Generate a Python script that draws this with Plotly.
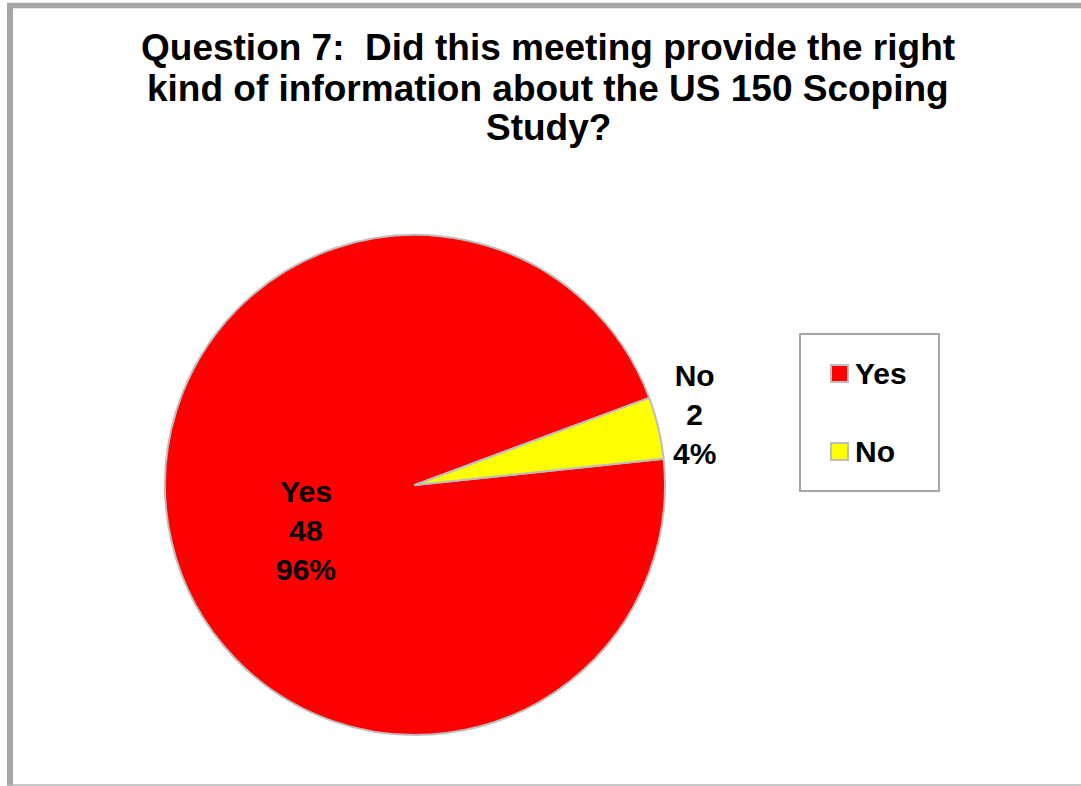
import plotly.graph_objects as go

W, H = 1081, 786

categories = ["Yes", "No"]
counts = [48, 2]
colors = ["#FF0000", "#FFFF00"]
title_lines = [
    "Question 7:  Did this meeting provide the right",
    "kind of information about the US 150 Scoping",
    "Study?",
]

FONT = "Liberation Sans, Arial, sans-serif"


def px(x):
    return x / W


def py(y):
    return 1 - y / H


total = sum(counts)
pcts = [round(100 * c / total) for c in counts]

fig = go.Figure()
fig.add_trace(go.Pie(
    labels=categories,
    values=counts,
    sort=False,
    direction="clockwise",
    rotation=84,
    marker=dict(colors=colors, line=dict(color="#BEBEBE", width=2)),
    textinfo="none",
    hoverinfo="label+value+percent",
    showlegend=False,
    domain=dict(x=[px(165), px(665)], y=[py(735), py(235)]),
))

annotations = []
# title lines
title_y = [48, 89, 127]
for line, yy in zip(title_lines, title_y):
    annotations.append(dict(
        x=px(548), y=py(yy), xref="paper", yref="paper",
        text=line, showarrow=False, xanchor="center", yanchor="middle",
        font=dict(family=FONT, size=37, color="#000000", weight="bold"),
    ))

# data labels
label_pos = [(306, 530), (694, 414)]
for cat, cnt, pct, (lx, ly) in zip(categories, counts, pcts, label_pos):
    annotations.append(dict(
        x=px(lx), y=py(ly), xref="paper", yref="paper",
        text=f"{cat}<br>{cnt}<br>{pct}%", showarrow=False,
        xanchor="center", yanchor="middle",
        font=dict(family=FONT, size=30, color="#000000", weight="bold"),
    ))

shapes = []
# outer frame
shapes.append(dict(type="line", xref="paper", yref="paper",
                   x0=px(10), x1=px(10), y0=py(3), y1=py(786),
                   line=dict(color="#A6A6A6", width=6)))
shapes.append(dict(type="line", xref="paper", yref="paper",
                   x0=px(7), x1=px(1081), y0=py(5.5), y1=py(5.5),
                   line=dict(color="#A6A6A6", width=5.5)))
shapes.append(dict(type="line", xref="paper", yref="paper",
                   x0=px(7), x1=px(1081), y0=py(785), y1=py(785),
                   line=dict(color="#B4B4B4", width=1.5)))

# legend box
shapes.append(dict(type="rect", xref="paper", yref="paper",
                   x0=px(800), x1=px(939), y0=py(491), y1=py(334),
                   line=dict(color="#A6A6A6", width=2), fillcolor="white"))
leg_y = [373.5, 451.5]
for cat, col, ly in zip(categories, colors, leg_y):
    shapes.append(dict(type="rect", xref="paper", yref="paper",
                       x0=px(831), x1=px(848), y0=py(ly + 8.5), y1=py(ly - 8.5),
                       line=dict(color="#BEBEBE", width=2), fillcolor=col))
    annotations.append(dict(
        x=px(853), y=py(ly), xref="paper", yref="paper",
        text=cat, showarrow=False, xanchor="left", yanchor="middle",
        font=dict(family=FONT, size=30, color="#000000", weight="bold"),
    ))

fig.update_layout(
    width=W, height=H,
    margin=dict(l=0, r=0, t=0, b=0),
    paper_bgcolor="white",
    plot_bgcolor="white",
    annotations=annotations,
    shapes=shapes,
    showlegend=False,
)

fig.write_html(
    "out.html",
    config={"displayModeBar": False},
    post_script=(
        "document.body.style.margin='0';"
        "document.body.style.overflow='hidden';"
        "document.documentElement.style.overflow='hidden';"
    ),
)
